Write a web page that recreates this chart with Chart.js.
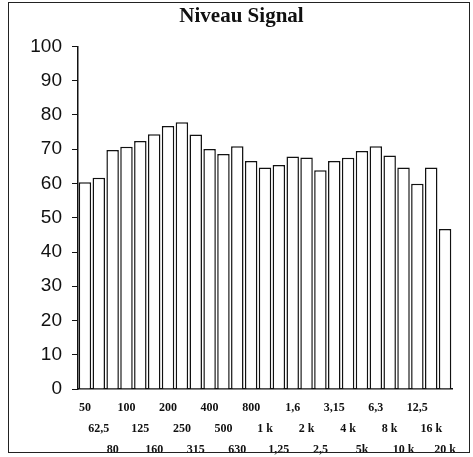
<!DOCTYPE html>
<html>
<head>
<meta charset="utf-8">
<script src="https://cdn.jsdelivr.net/npm/chart.js@4/dist/chart.umd.min.js"></script>
<style>
  html, body { margin: 0; padding: 0; background: #fff; }
  #wrap { position: relative; width: 473px; height: 457px; }
  #frame {
    position: absolute; left: 8px; top: 2px; width: 462px; height: 451px;
    border: 1.5px solid #222; box-sizing: border-box; pointer-events: none;
  }
</style>
</head>
<body>
<div id="wrap">
  <canvas id="niveau"></canvas>
  <div id="frame"></div>
</div>
<script>
// bandes de tiers d'octave (Hz)
const bandes = ['50', '62,5', '80', '100', '125', '160', '200', '250', '315',
    '400', '500', '630', '800', '1 k', '1,25', '1,6', '2 k', '2,5',
    '3,15', '4 k', '5k', '6,3', '8 k', '10 k', '12,5', '16 k', '20 k'];

// niveau
const niveaux = [60.4, 61.7, 69.8, 70.7, 72.4, 74.4, 76.8, 77.9, 74.3,
    70.1, 68.6, 70.9, 66.6, 64.7, 65.4, 67.9, 67.6, 63.9,
    66.6, 67.5, 69.5, 70.9, 68.2, 64.7, 59.9, 64.7, 46.7];

const yMin = 0, yMax = 100, yPas = 10;

const ink = '#111';

/* ---- étiquettes en trois rangées décalées ---- */
function etiquette(i) {
    const lignes = ['', '', ''];
    lignes[i % 3] = bandes[i];
    return lignes;
}

new Chart(document.getElementById('niveau'), {
    type: 'bar',
    data: {
        labels: bandes,
        datasets: [{
            label: 'Niveau Signal',
            data: niveaux,
            backgroundColor: '#fff',
            borderColor: ink,
            borderWidth: 1.5,
            borderSkipped: 'bottom',
            barPercentage: 0.9,
            categoryPercentage: 1
        }]
    },
    options: {
        responsive: true,
        maintainAspectRatio: false,
        animation: false,
        layout: { padding: { left: 31, right: 21, top: 0, bottom: 0 } },
        plugins: {
            legend: { display: false },
            tooltip: { enabled: false },
            title: {
                display: true,
                text: 'Niveau Signal',
                color: ink,
                font: { family: 'Liberation Serif', weight: 'bold', size: 21, lineHeight: 1.2 },
                padding: { top: 4, bottom: 17.3 }
            }
        },
        scales: {
            x: {
                grid: { display: false },
                border: { display: true, color: ink, width: 1.5 },
                ticks: {
                    autoSkip: false,
                    maxRotation: 0,
                    minRotation: 0,
                    padding: 0.6,
                    color: ink,
                    font: { family: 'Liberation Serif', weight: 'bold', size: 12, lineHeight: 1.733 },
                    callback: (v, i) => etiquette(i)
                },
                afterFit: s => { s.height = 68; }
            },
            y: {
                min: yMin,
                max: yMax,
                grid: { drawOnChartArea: false, drawTicks: true, tickLength: 6, color: ink },
                border: { display: true, color: ink, width: 1.5 },
                ticks: {
                    stepSize: yPas,
                    padding: 10,
                    color: ink,
                    font: { family: 'Liberation Sans', size: 19 }
                },
                afterFit: s => { s.width = 47; }
            }
        }
    }
});
</script>
</body>
</html>
